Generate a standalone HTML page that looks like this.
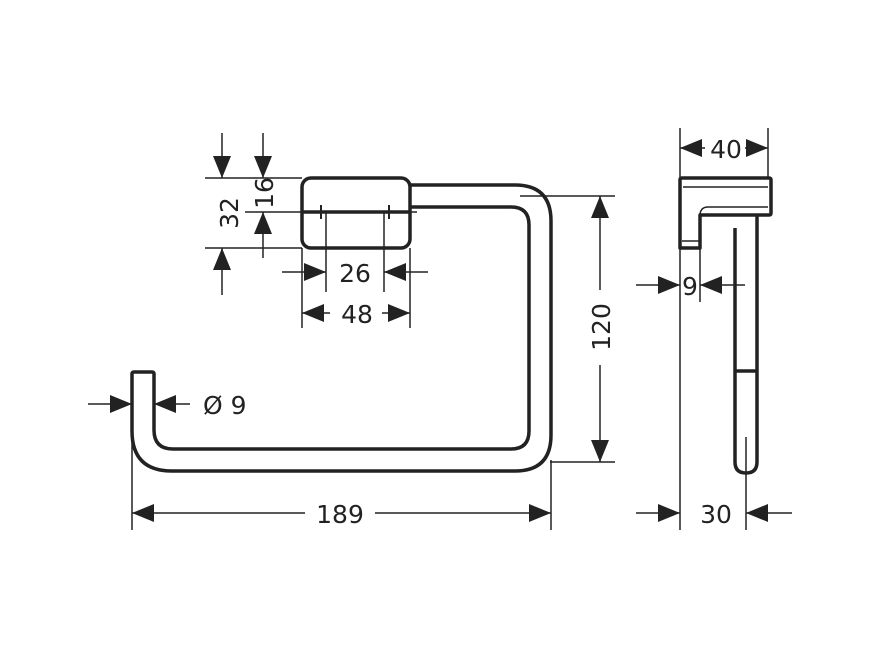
<!DOCTYPE html>
<html><head><meta charset="utf-8"><style>
html,body{margin:0;padding:0;background:#fff}
svg{display:block}
text{font-family:"DejaVu Sans","Liberation Sans",sans-serif;font-size:25px;fill:#222}
</style></head><body>
<svg width="881" height="660" viewBox="0 0 881 660" xmlns="http://www.w3.org/2000/svg">
<defs>
<marker id="a" viewBox="0 0 22 18" refX="22" refY="9" markerWidth="22" markerHeight="18" markerUnits="userSpaceOnUse" orient="auto"><path d="M0,0 L22,9 L0,18 Z" fill="#222"/></marker>
</defs>
<g fill="none" stroke="#222" stroke-width="3.5" stroke-linejoin="round">
<path d="M410,185 H515 Q551,185 551,221 V435 Q551,471 515,471 H172 Q132,471 132,431 V374 Q132,372 134,372 H152 Q154,372 154,374 V430 Q154,449 173,449 H511 Q529,449 529,431 V225 Q529,207 511,207 H410"/>
<rect x="302" y="178" width="108" height="70" rx="9"/>
<line x1="302" y1="212" x2="410" y2="212"/>
<path d="M680,180 Q680,178 682,178 H769 Q771,178 771,180 V213 Q771,215 769,215 H700 V248 H680 Z"/>
<path d="M757,215 V462 Q757,473 746,473 Q735,473 735,462 V228"/>
<line x1="735" y1="371" x2="757" y2="371"/>
</g>
<g fill="none" stroke="#222" stroke-width="1.5">
<line x1="683" y1="187" x2="768" y2="187"/>
<path d="M768,207 H708 Q701,207 700,214"/>
<line x1="682" y1="241" x2="699" y2="241"/>
<line x1="245" y1="212" x2="417" y2="212"/>
<line x1="205" y1="178" x2="302" y2="178"/>
<line x1="205" y1="248" x2="302" y2="248"/>
<line x1="326" y1="212" x2="326" y2="292"/>
<line x1="384" y1="212" x2="384" y2="292"/>
<line x1="302" y1="248" x2="302" y2="328"/>
<line x1="410" y1="248" x2="410" y2="328"/>
<line x1="222" y1="133" x2="222" y2="178" marker-end="url(#a)"/>
<line x1="222" y1="295" x2="222" y2="248" marker-end="url(#a)"/>
<line x1="263" y1="133" x2="263" y2="178" marker-end="url(#a)"/>
<line x1="263" y1="258" x2="263" y2="212" marker-end="url(#a)"/>
<line x1="282" y1="272" x2="326" y2="272" marker-end="url(#a)"/>
<line x1="428" y1="272" x2="384" y2="272" marker-end="url(#a)"/>
<line x1="330" y1="313" x2="302" y2="313" marker-end="url(#a)"/>
<line x1="382" y1="313" x2="410" y2="313" marker-end="url(#a)"/>
<line x1="520" y1="196" x2="615" y2="196"/>
<line x1="550" y1="462" x2="615" y2="462"/>
<line x1="600" y1="290" x2="600" y2="196" marker-end="url(#a)"/>
<line x1="600" y1="365" x2="600" y2="462" marker-end="url(#a)"/>
<line x1="88" y1="404" x2="132" y2="404" marker-end="url(#a)"/>
<line x1="190" y1="404" x2="154" y2="404" marker-end="url(#a)"/>
<line x1="132" y1="440" x2="132" y2="530"/>
<line x1="551" y1="460" x2="551" y2="530"/>
<line x1="305" y1="513" x2="132" y2="513" marker-end="url(#a)"/>
<line x1="375" y1="513" x2="551" y2="513" marker-end="url(#a)"/>
<line x1="680" y1="128" x2="680" y2="178"/>
<line x1="768" y1="128" x2="768" y2="178"/>
<line x1="705" y1="148" x2="680" y2="148" marker-end="url(#a)"/>
<line x1="745" y1="148" x2="768" y2="148" marker-end="url(#a)"/>
<line x1="680" y1="248" x2="680" y2="530"/>
<line x1="700" y1="248" x2="700" y2="302"/>
<line x1="636" y1="285" x2="680" y2="285" marker-end="url(#a)"/>
<line x1="745" y1="285" x2="700" y2="285" marker-end="url(#a)"/>
<line x1="746" y1="437" x2="746" y2="530"/>
<line x1="636" y1="513" x2="680" y2="513" marker-end="url(#a)"/>
<line x1="792" y1="513" x2="746" y2="513" marker-end="url(#a)"/>
</g>
<g fill="#222" stroke="none">
<rect x="320" y="205" width="2" height="14"/>
<rect x="388" y="205" width="2" height="14"/>
</g>
<text x="355" y="282" text-anchor="middle">26</text>
<text x="357" y="323" text-anchor="middle">48</text>
<text x="340" y="523" text-anchor="middle">189</text>
<text x="203" y="414">Ø 9</text>
<text x="726" y="158" text-anchor="middle">40</text>
<text x="690" y="295" text-anchor="middle">9</text>
<text x="716" y="523" text-anchor="middle">30</text>
<text transform="translate(238,213) rotate(-90)" text-anchor="middle">32</text>
<text transform="translate(273,193) rotate(-90)" text-anchor="middle">16</text>
<text transform="translate(610,327) rotate(-90)" text-anchor="middle">120</text>
</svg>
</body></html>
